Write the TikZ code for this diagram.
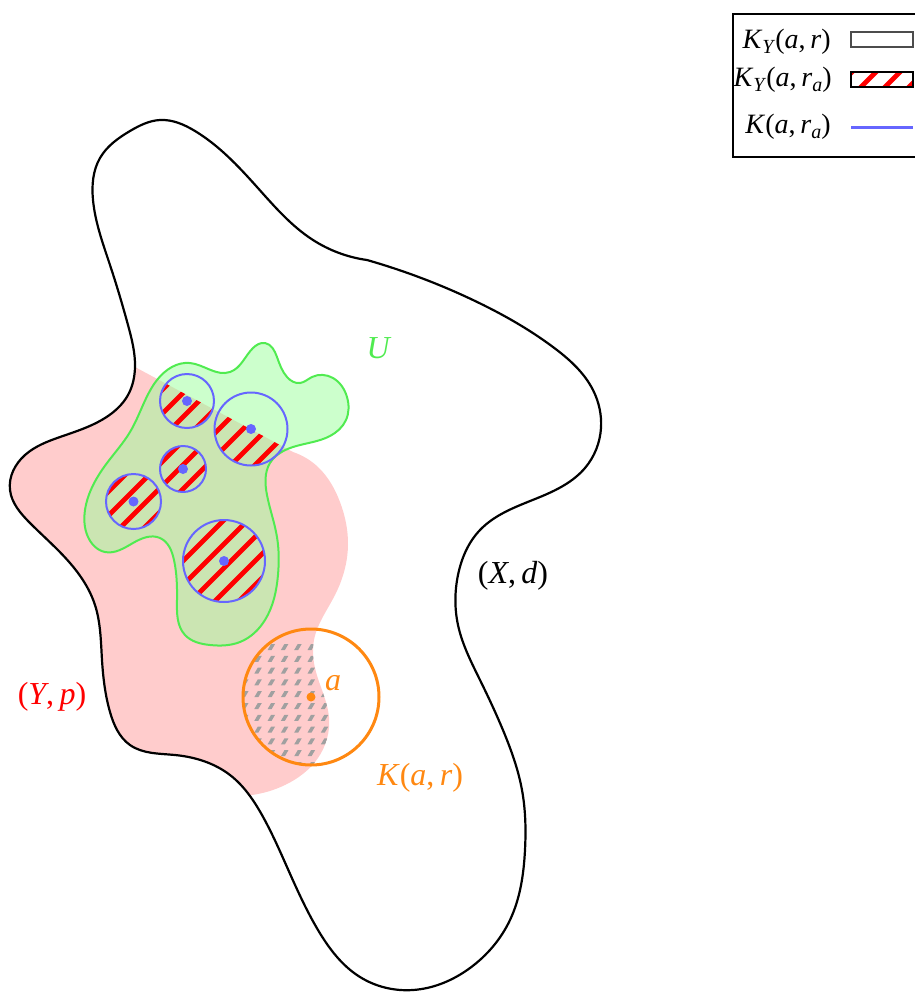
\documentclass[tikz,border=0pt]{standalone}
\usepackage{fontspec}
\setmainfont{Liberation Serif}
\usetikzlibrary{calc,hobby}

\definecolor{ugreen}{RGB}{80,235,80}
\definecolor{kblue}{RGB}{102,102,255}
\definecolor{korange}{RGB}{255,136,17}
\definecolor{ypink}{RGB}{255,204,204}
\definecolor{dashgray}{RGB}{160,160,160}

%% italic letters and subscripts in text
\newcommand{\iv}[1]{\textit{#1}}
\newcommand{\isub}[1]{\raisebox{-0.35ex}{\fontsize{10}{11}\selectfont\textit{#1}}}

%% outline of X (starts and ends at the corner)
\def\outlineX{(367,260) .. (473,300) .. (553,347) .. (593,390) .. (601,428)
  .. (585,468) .. (540,497) .. (480,530) .. (458,575) .. (458,625) .. (480,680)
  .. (505,735) .. (522,790) .. (525,850) .. (510,920) .. (470,968) .. (413,990)
  .. (360,977) .. (318,930) .. (287,867) .. (262,815) .. (230,775) .. (175,755)
  .. (130,745) .. (110,712) .. (102,660) .. (95,605) .. (70,563) .. (30,523)
  .. (10,490) .. (25,455) .. (60,437) .. (105,418) .. (128,395) .. (135,367)
  .. (128,325) .. (110,265) .. (93,200) .. (100,158) .. (130,131) .. (160,120)
  .. (195,131) .. (257,187) .. (313,240) .. (367,260)}

%% Y: right edge, closed far outside X (the fill is clipped to X)
\def\outlineY{(135,367) -- (293,452) .. (318,467) .. (340,502) .. (348,545)
  .. (335,595) .. (314,640) .. (316,672) .. (329,717) .. (318,758) .. (285,785)
  .. (252,795) -- (200,815) -- (-50,815) -- (-50,291) -- (-7,291) -- cycle}

%% outline of U
\def\outlineU{(157,380) .. (190,363) .. (230,372) .. (253,348) .. (265,343)
  .. (277,357) .. (287,377) .. (300,383) .. (312,377) .. (333,378) .. (347,397)
  .. (346,420) .. (330,436) .. (293,447) .. (270,463) .. (267,495) .. (277,537)
  .. (278,575) .. (265,620) .. (240,642) .. (210,645) .. (185,635) .. (177,600)
  .. (174,560) .. (160,538) .. (133,543) .. (105,552) .. (88,537) .. (85,510)
  .. (107,463) .. (130,432) .. (143,405) .. (157,380)}

\begin{document}
\begin{tikzpicture}[
    x=0.5pt, y=-0.5pt,
    use Hobby shortcut,
    font=\fontsize{16}{19}\selectfont,
    rim/.style={draw=black, line width=1.1pt},
    ufill/.style={fill=green!40, fill opacity=0.5, closed=true},
    uedge/.style={draw=ugreen, line width=1pt, closed=true},
    ballr/.style={draw=kblue, line width=1pt},
    hatchline/.style={draw=red, line width=2.4pt},
    lbl/.style={inner sep=1pt},
    leg/.style={inner sep=1pt, anchor=east, font=\fontsize{14}{17}\selectfont},
  ]
  \useasboundingbox (0,0) rectangle (915,992);

  %% ===== Y and U =====
  \begin{scope}
    \clip \outlineX;
    \fill[ypink] \outlineY;
  \end{scope}
  \path[ufill] \outlineU;

  %% K_Y(a,r): grey dashes inside the orange ball
  \begin{scope}
    \clip \outlineY;
    \clip (311,697) circle (68);
    \foreach \i in {0,...,8}
      \foreach \j in {0,...,12}
        \fill[dashgray] ({241+13.3*\i},{650+11.8*\j}) -- ++(4,0) -- ++(3.5,-6)
          -- ++(-4,0) -- cycle;
  \end{scope}

  %% K_Y(a,r_a): red hatch inside the small balls
  \foreach \cx/\cy/\rr in {187/401/27, 251/429/36.5, 183/469/23, 133.5/501.5/27.5, 224/561/41} {
    \begin{scope}
      \clip \outlineY;
      \clip (\cx,\cy) circle (\rr);
      \foreach \c in {456,480,...,888}
        \draw[hatchline] (\c-300,300) -- (\c-700,700);
    \end{scope}
  }

  \draw[uedge] \outlineU;

  %% balls K(a,r_a) with their centres
  \foreach \cx/\cy/\rr in {187/401/27, 251/429/36.5, 183/469/23, 133.5/501.5/27.5, 224/561/41} {
    \draw[ballr] (\cx,\cy) circle (\rr);
    \fill[kblue] (\cx,\cy) circle (5);
  }

  %% ===== X =====
  \draw[rim] \outlineX;

  %% ball K(a,r)
  \draw[korange, line width=1.5pt] (311,697) circle (68);
  \fill[korange] (311,697) circle (4.5);

  %% ===== labels =====
  \node[lbl, text=ugreen]  (labU) at (379,348) {\iv{U}};
  \node[lbl]               (labX) at (513,576) {(\iv{X},\,\iv{d})};
  \node[lbl, text=red]     (labY) at (52,697)  {(\iv{Y},\,\iv{p})};
  \node[lbl, text=korange] (labK) at (420,778) {\iv{K}(\iv{a},\,\iv{r})};
  \node[lbl, text=korange] (laba) at (333,683) {\iv{a}};

  %% ===== legend =====
  \draw[line width=0.6pt] (733,14) rectangle (925,157);
  \node[leg] (legA) at (833,42)  {\iv{K}\isub{Y}(\iv{a},\,\iv{r})};
  \node[leg] (legB) at (834,80)  {\iv{K}\isub{Y}(\iv{a},\,\iv{r}\isub{a})};
  \node[leg] (legC) at (833,127) {\iv{K}(\iv{a},\,\iv{r}\isub{a})};
  \draw[draw=black!70, line width=0.8pt] (851,32) rectangle (913,47);
  \begin{scope}
    \clip (851,72) rectangle (913,87);
    \foreach \c in {900,924,...,1020}
      \draw[hatchline] (\c-60,60) -- (\c-100,100);
  \end{scope}
  \draw[line width=0.8pt] (851,72) rectangle (913,87);
  \draw[kblue, line width=1.5pt] (851,127) -- (913,127);
\end{tikzpicture}
\end{document}
